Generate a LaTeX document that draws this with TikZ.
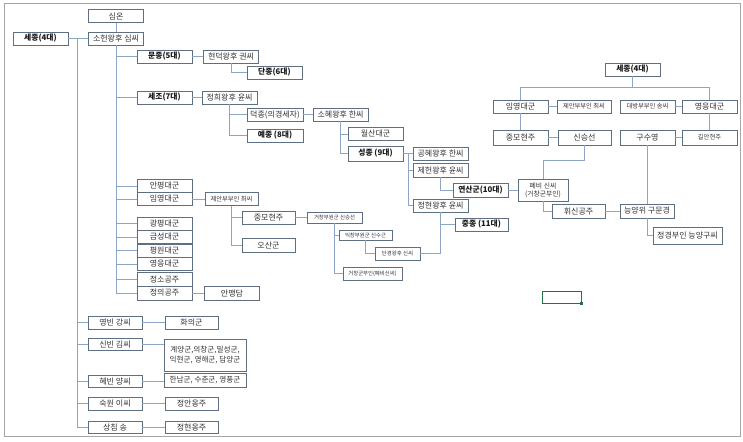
\documentclass[tikz,border=0pt]{standalone}
\usepackage{fontspec}
\setmainfont{Noto Sans CJK KR}
\usepackage{tikz}
\definecolor{boxline}{HTML}{5F6F82}
\definecolor{linkline}{HTML}{8EA6C6}
\definecolor{selgreen}{HTML}{217346}
\begin{document}
\begin{tikzpicture}[
  x=1pt, y=-1pt,
  box/.style={draw=boxline, line width=0.7pt, fill=white, minimum width=55, minimum height=13,
    inner sep=1pt, align=center, text=black!80, font=\fontsize{8}{8.5}\selectfont},
  king/.style={box, text=black!90, font=\fontsize{7.8}{8}\selectfont\bfseries},
  mid/.style={box, font=\fontsize{6.3}{7}\selectfont},
  tiny/.style={box, font=\fontsize{5.4}{6}\selectfont},
  link/.style={draw=linkline, line width=0.8pt}
]
\useasboundingbox (0,0) rectangle (743,441);
\draw[black!35] (4,3) rectangle (740,436);
\node[box] (simon) at (116,16) {심온};
\node[box] (soheon) at (116,38.5) {소헌왕후 심씨};
\node[king] (sejong) at (40.5,38.5) {세종(4대)};
\node[king] (munjong) at (164.5,56.5) {문종(5대)};
\node[box] (hyeondeok) at (231,56.5) {현덕왕후 권씨};
\node[king] (danjong) at (274.5,72.5) {단종(6대)};
\node[king] (sejo) at (164.5,97.5) {세조(7대)};
\node[box] (jeonghui) at (229.5,97.5) {정희왕후 윤씨};
\node[box, minimum width=56] (deokjong) at (275,114.5) {덕종(의경세자)};
\node[box] (sohye) at (340.5,114.5) {소혜왕후 한씨};
\node[king, minimum width=56] (yejong) at (275,135.5) {예종 (8대)};
\node[box] (wolsan) at (375.5,134) {월산대군};
\node[king, minimum height=15] (seongjong) at (375.5,153.5) {성종 (9대)};
\node[box] (gonghye) at (440.5,153.5) {공혜왕후 한씨};
\node[box, minimum height=14] (jeheon) at (440.5,170) {제헌왕후 윤씨};
\node[king, minimum height=14] (yeonsan) at (480.5,190) {연산군(10대)};
\node[box] (jeonghyeon) at (440.5,205.5) {정현왕후 윤씨};
\node[king, minimum width=53] (jungjong) at (481.5,224.5) {중종 (11대)};
\node[box] (anpyeong) at (164.5,186) {안평대군};
\node[box] (imyeong) at (164.5,199) {임영대군};
\node[mid, minimum width=53] (jean) at (231.5,199) {제안부부인 최씨};
\node[box, minimum width=53] (jungmo) at (268.5,217.5) {중모현주};
\node[box, minimum width=53, minimum height=14] (osan) at (268.5,245) {오산군};
\node[tiny, minimum height=11] (sinseungseon) at (334.5,217.5) {거창부원군 신승선};
\node[tiny, minimum width=53, minimum height=10] (sinsugeun) at (365.5,235) {익창부원군 신수근};
\node[tiny, minimum width=45] (dangyeong) at (397.5,253.5) {단경왕후 신씨};
\node[tiny, minimum width=59] (geochang) at (372.5,273.5) {거창군부인(폐비신씨)};
\node[box] (gwangpyeong) at (164.5,223.5) {광평대군};
\node[box] (geumseong) at (164.5,237) {금성대군};
\node[box] (pyeongwon) at (164.5,250.5) {평원대군};
\node[box] (yeongeung) at (164.5,264) {영응대군};
\node[box, minimum height=14] (jeongso) at (164.5,279) {정소공주};
\node[box, minimum height=14] (jeongui) at (164.5,293) {정의공주};
\node[box, minimum height=14] (anmaengdam) at (232,293) {안맹담};
\node[box, minimum width=54] (yeongbin) at (115,322.5) {영빈 강씨};
\node[box, minimum width=53] (hwaui) at (191.5,322.5) {화의군};
\node[box, minimum width=54, minimum height=12] (sinbin) at (115,344) {신빈 김씨};
\node[box, minimum width=82, minimum height=32, font=\fontsize{7.6}{8}\selectfont] (gyeyang) at (205,355)
  {계양군,의창군,밀성군,\\[2pt]익현군, 영해군, 담양군};
\node[box, minimum width=54, minimum height=12] (hyebin) at (115,381) {혜빈 양씨};
\node[box, minimum width=82, minimum height=14, font=\fontsize{7.6}{8}\selectfont] (hannam) at (205,380) {한남군, 수춘군, 영풍군};
\node[box, minimum width=54] (sugwon) at (115,403.5) {숙원 이씨};
\node[box, minimum width=53] (jeongan) at (191.5,403.5) {정안옹주};
\node[box, minimum width=54, minimum height=12] (sangchim) at (115,427) {상침 송};
\node[box, minimum width=53, minimum height=12] (jeonghyeonong) at (191.5,427) {정현옹주};
\node[king] (sejongR) at (632.5,69.5) {세종(4대)};
\node[box] (imyeongR) at (520.5,106.5) {임영대군};
\node[mid, minimum width=54] (jeanR) at (584,106.5) {제안부부인 최씨};
\node[mid] (daebang) at (647.5,106.5) {대방부부인 송씨};
\node[box] (yeongeungR) at (709.5,106.5) {영응대군};
\node[box, minimum height=15] (jungmoR) at (520.5,137.5) {중모현주};
\node[box, minimum width=53, minimum height=15] (sinR) at (584.5,137.5) {신승선};
\node[box, minimum height=15] (gusuyeong) at (647.5,137.5) {구수영};
\node[mid, minimum height=15] (giran) at (709.5,137.5) {길안현주};
\node[box, minimum width=50, minimum height=22, font=\fontsize{6.8}{8}\selectfont]
  (pyebi) at (543,190) {폐비 신씨\\(거창군부인)};
\node[box, minimum width=53, minimum height=14] (hwisin) at (578.5,211) {휘신공주};
\node[box, minimum width=54, minimum height=14] (neungyang) at (647,211) {능양위 구문경};
\node[box, minimum width=69, minimum height=17] (jeonggyeong) at (687.5,235.5) {정경부인 능양구씨};
\node[draw=selgreen, line width=1pt, minimum width=39, minimum height=12, inner sep=0pt]
  (sel) at (561.5,297) {};
\fill[selgreen] ([shift={(-1.6,-1.6)}]sel.south east) rectangle ++(3.2,3.2);
\draw[link] (simon) -- (soheon);
\draw[link] (sejong) -- (soheon);
\foreach \n in {yeongbin,sinbin,hyebin,sugwon,sangchim}
  \draw[link] (sejong.east) -- ++(9.5,0) |- (\n.west);
\foreach \n in {munjong,sejo,anpyeong,imyeong,gwangpyeong,geumseong,pyeongwon,yeongeung,jeongso,jeongui}
  \draw[link] (soheon.south) |- (\n.west);
\draw[link] (munjong) -- (hyeondeok);
\draw[link] (hyeondeok.south) |- (danjong.west);
\draw[link] (sejo) -- (jeonghui);
\draw[link] (jeonghui.south) |- (deokjong.west);
\draw[link] (jeonghui.south) |- (yejong.west);
\draw[link] (deokjong) -- (sohye);
\draw[link] (sohye.south) |- (wolsan.west);
\draw[link] (sohye.south) |- (seongjong.west);
\foreach \n in {gonghye,jeheon,jeonghyeon}
  \draw[link] (seongjong.east) -- ++(5,0) |- (\n.west);
\draw[link] (jeheon.south) |- (yeonsan.west);
\draw[link] (jeonghyeon.south) |- (jungjong.west);
\draw[link] (jeonghyeon.south) |- (dangyeong.east);
\draw[link] (yeonsan) -- (pyebi);
\draw[link] (imyeong) -- (jean);
\draw[link] (jean.south) |- (jungmo.west);
\draw[link] (jean.south) |- (osan.west);
\draw[link] (jungmo) -- (sinseungseon);
\draw[link] (sinseungseon.south) |- (sinsugeun.west);
\draw[link] (sinseungseon.south) |- (geochang.west);
\draw[link] (sinsugeun.south) |- (dangyeong.west);
\draw[link] (jeongui) -- (anmaengdam);
\draw[link] (yeongbin) -- (hwaui);
\draw[link] (sinbin.east) -- (sinbin.east -| gyeyang.west);
\draw[link] (hyebin.east) -- (hyebin.east -| hannam.west);
\draw[link] (sugwon) -- (jeongan);
\draw[link] (sangchim) -- (jeonghyeonong);
\draw[link] (sejongR.south) -- ++(0,11) -| (imyeongR.north);
\draw[link] (sejongR.south) -- ++(0,11) -| (yeongeungR.north);
\draw[link] (imyeongR) -- (jeanR);
\draw[link] (daebang) -- (yeongeungR);
\draw[link] (imyeongR) -- (jungmoR);
\draw[link] (yeongeungR) -- (giran);
\draw[link] (jungmoR) -- (sinR);
\draw[link] (gusuyeong) -- (giran);
\draw[link] (sinR.south) -- ++(0,15) -| (pyebi.north);
\draw[link] (pyebi.south) |- (hwisin.west);
\draw[link] (hwisin) -- (neungyang);
\draw[link] (gusuyeong.south) -- (gusuyeong.south |- neungyang.north);
\draw[link] (neungyang.south) |- (jeonggyeong.west);
\end{tikzpicture}
\end{document}
